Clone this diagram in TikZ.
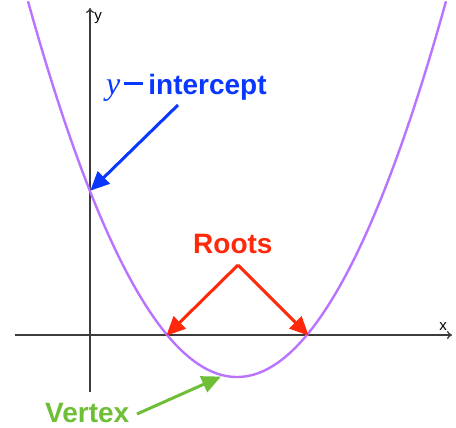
\documentclass[tikz,border=0pt]{standalone}
\usepackage{fontspec}
\setmainfont{Liberation Sans}
\newfontfamily\serifit{Liberation Serif}
\usetikzlibrary{arrows.meta}
\definecolor{curvepurple}{RGB}{185,115,255}
\definecolor{lblblue}{RGB}{10,55,255}
\definecolor{lblred}{RGB}{255,40,10}
\definecolor{lblgreen}{RGB}{110,190,55}
\definecolor{axisgray}{RGB}{60,60,60}
\tikzset{
  axisline/.style={draw=axisgray, line width=1.3pt, -{To[length=5pt,width=8pt]}},
  axislabel/.style={font=\fontsize{15}{15}\selectfont, inner sep=0pt},
  callout/.style={line width=3pt, -{Triangle[length=19pt,width=17pt]}, shorten >=-1pt},
  lbl/.style={font=\fontsize{28}{28}\selectfont\bfseries, inner sep=0pt},
}
\begin{document}
\begin{tikzpicture}[x=1pt,y=-1pt]
\fill[white] (0,0) rectangle (456,428);
\useasboundingbox (0,0) rectangle (456,428);
% axes
\coordinate (xstart) at (15,335);
\coordinate (xend) at (452,335);
\coordinate (ystart) at (90,392);
\coordinate (yend) at (90,8);
\draw[axisline] (xstart) -- (xend);
\draw[axisline] (ystart) -- (yend);
\node[axislabel] (xlab) at (443,327) {x};
\node[axislabel] (ylab) at (98,18) {y};
% parabola
\draw[curvepurple, line width=2.4pt] plot[domain=28:446, samples=200] (\x, {377-(0.09274*(\x-237))^2});
% points on curve
\coordinate (yint) at (91,190);
\coordinate (rootL) at (167,335);
\coordinate (rootR) at (308,335);
\coordinate (vert) at (220,377);
% labels
\node[lbl, text=lblblue, anchor=base west] (ylbl) at (106,95) {{\serifit\mdseries\itshape\fontsize{32}{32}\selectfont y}\kern4pt\rule[10pt]{19pt}{2.6pt}\kern5pt intercept};
\node[lbl, text=lblred, anchor=base west] (roots) at (193,253) {Roots};
\node[lbl, text=lblgreen, anchor=base west] (vertex) at (45,422) {Vertex};
% arrow starts
\coordinate (bstart) at (178,105);
\coordinate (rstart) at (238,265);
\coordinate (gstart) at (137,414);
\draw[callout, lblblue] (bstart) -- (yint);
\draw[callout, lblred] (rstart) -- (rootL);
\draw[callout, lblred] (rstart) -- (rootR);
\draw[callout, lblgreen] (gstart) -- (vert);
\end{tikzpicture}
\end{document}
